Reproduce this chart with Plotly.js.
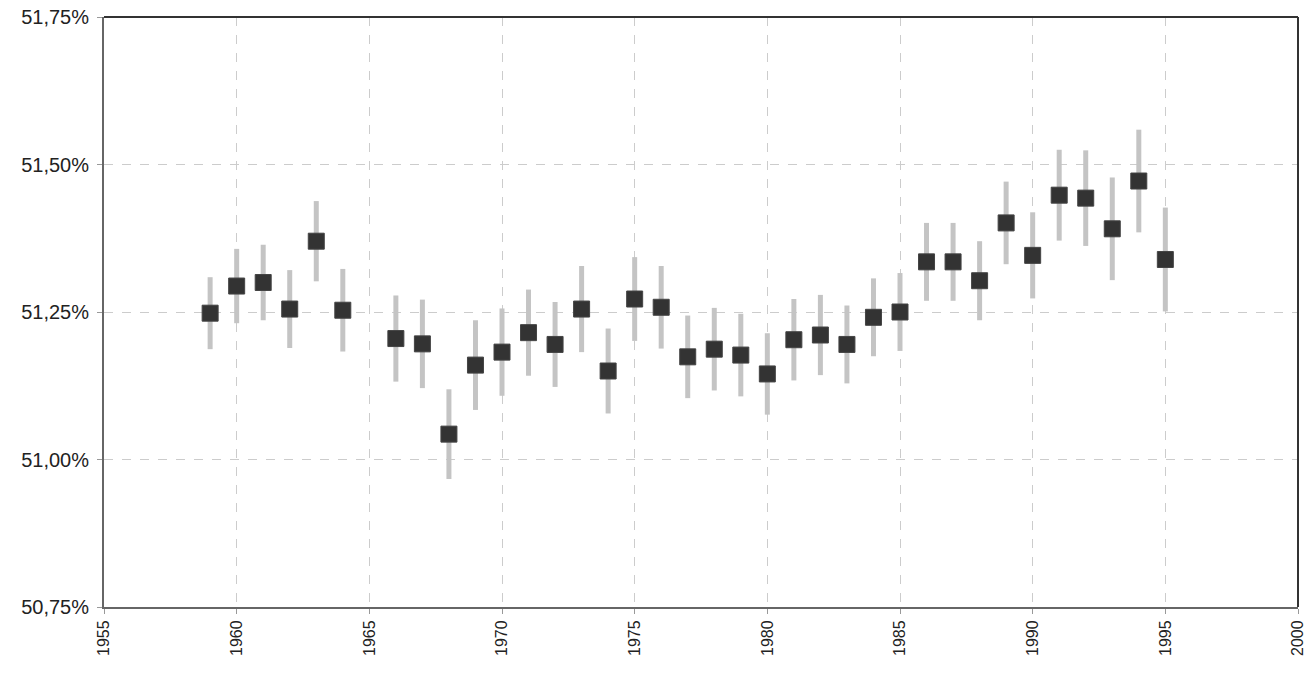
<!DOCTYPE html>
<html>
<head>
<meta charset="utf-8">
<script src="https://cdn.plot.ly/plotly-3.0.1.min.js"></script>
<style>html,body{margin:0;padding:0;background:#fff;}#chart{width:1306px;height:678px;}</style>
</head>
<body>
<div id="chart"></div>
<script>
var years = [1959,1960,1961,1962,1963,1964,1966,1967,1968,1969,1970,1971,1972,1973,1974,1975,1976,1977,1978,1979,1980,1981,1982,1983,1984,1985,1986,1987,1988,1989,1990,1991,1992,1993,1994,1995];
var values = [51.248,51.294,51.300,51.255,51.370,51.253,51.205,51.196,51.043,51.160,51.182,51.215,51.195,51.255,51.150,51.272,51.258,51.174,51.187,51.177,51.145,51.203,51.211,51.195,51.241,51.250,51.335,51.335,51.303,51.401,51.346,51.448,51.443,51.391,51.472,51.339];
var errors = [0.061,0.063,0.064,0.066,0.068,0.070,0.073,0.075,0.076,0.076,0.074,0.073,0.072,0.073,0.072,0.071,0.070,0.070,0.070,0.070,0.069,0.069,0.068,0.066,0.066,0.066,0.066,0.066,0.067,0.070,0.073,0.077,0.081,0.087,0.087,0.088];
var xTicks = [1955,1960,1965,1970,1975,1980,1985,1990,1995,2000];
var yTicks = [50.75,51.00,51.25,51.50,51.75];
var yTickLabels = ['50,75%','51,00%','51,25%','51,50%','51,75%'];

var trace = {
  x: years, y: values, type: 'scatter', mode: 'markers',
  marker: {symbol: 'square', size: 16, color: '#333333', line: {color: '#444444', width: 1}},
  error_y: {type: 'data', array: errors, visible: true, color: '#c4c4c4', thickness: 5, width: 0},
  hoverinfo: 'x+y'
};

var layout = {
  width: 1306, height: 678,
  margin: {l: 104, r: 8, t: 17, b: 71},
  paper_bgcolor: '#ffffff', plot_bgcolor: '#ffffff',
  font: {family: 'Liberation Sans, Arial, sans-serif', size: 16, color: '#222222'},
  showlegend: false,
  xaxis: {
    range: [1955, 2000], tickmode: 'array', tickvals: xTicks, ticktext: xTicks.map(String), tickangle: -90,
    showgrid: true, gridcolor: '#cccccc', griddash: 'dash', gridwidth: 1,
    showline: true, linecolor: '#666666', linewidth: 2, mirror: false,
    ticks: 'outside', ticklen: 5, tickcolor: '#999999', automargin: false,
    ticklabeloverflow: 'allow',
    tickfont: {family: 'Liberation Sans, Arial, sans-serif', size: 16, color: '#222222'}, zeroline: false
  },
  yaxis: {
    range: [50.75, 51.75], tickmode: 'array', tickvals: yTicks, ticktext: yTickLabels,
    showgrid: true, gridcolor: '#cccccc', griddash: 'dash', gridwidth: 1,
    showline: true, linecolor: '#666666', linewidth: 2, mirror: false,
    ticks: 'outside', ticklen: 5, tickcolor: '#999999', automargin: false,
    ticklabeloverflow: 'allow', ticklabelstandoff: 4,
    tickfont: {family: 'Liberation Sans, Arial, sans-serif', size: 20, color: '#222222'}, zeroline: false
  },
  shapes: [
    {type: 'line', xref: 'paper', yref: 'paper', x0: 0, x1: 1, y0: 1, y1: 1, line: {color: '#333333', width: 2}},
    {type: 'line', xref: 'paper', yref: 'paper', x0: 1, x1: 1, y0: 0, y1: 1, line: {color: '#333333', width: 2}}
  ]
};
Plotly.newPlot('chart', [trace], layout, {displayModeBar: false, staticPlot: true});
</script>
</body>
</html>
